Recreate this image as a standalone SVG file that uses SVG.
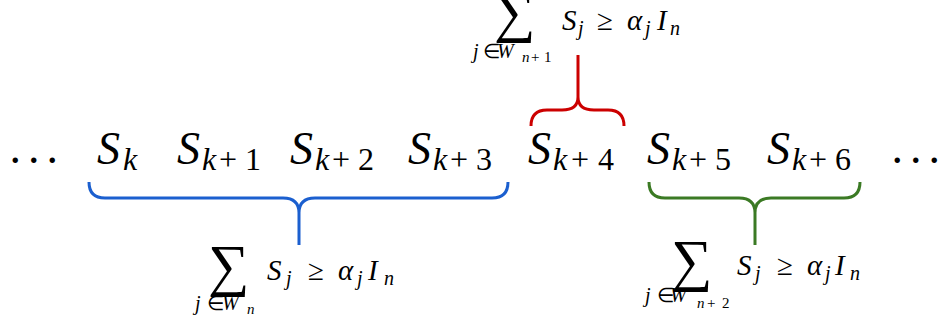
<svg xmlns="http://www.w3.org/2000/svg" width="940" height="327" viewBox="0 0 940 327">
<rect width="940" height="327" fill="#fff"/>
<g font-family="Liberation Serif, serif" fill="#000">
<g id="dots-left"><text x="9.5" y="163" font-size="46" letter-spacing="7">...</text></g>
<g id="s-k"><text font-size="46"><tspan x="97" y="164" font-style="italic">S</tspan><tspan x="123" y="170" font-size="32" font-style="italic">k</tspan></text></g>
<g id="s-k1"><text font-size="46"><tspan x="177" y="164" font-style="italic">S</tspan><tspan x="202" y="170" font-size="32" font-style="italic">k</tspan><tspan x="219" y="170" font-size="32">+</tspan><tspan x="245" y="170" font-size="32">1</tspan></text></g>
<g id="s-k2"><text font-size="46"><tspan x="290" y="164" font-style="italic">S</tspan><tspan x="315" y="170" font-size="32" font-style="italic">k</tspan><tspan x="332" y="170" font-size="32">+</tspan><tspan x="358" y="170" font-size="32">2</tspan></text></g>
<g id="s-k3"><text font-size="46"><tspan x="408" y="164" font-style="italic">S</tspan><tspan x="433" y="170" font-size="32" font-style="italic">k</tspan><tspan x="450" y="170" font-size="32">+</tspan><tspan x="476" y="170" font-size="32">3</tspan></text></g>
<g id="s-k4"><text font-size="46"><tspan x="528" y="164" font-style="italic">S</tspan><tspan x="553" y="170" font-size="32" font-style="italic">k</tspan><tspan x="571" y="170" font-size="32">+</tspan><tspan x="598" y="170" font-size="32">4</tspan></text></g>
<g id="s-k5"><text font-size="46"><tspan x="647" y="164" font-style="italic">S</tspan><tspan x="672" y="170" font-size="32" font-style="italic">k</tspan><tspan x="689" y="170" font-size="32">+</tspan><tspan x="715" y="170" font-size="32">5</tspan></text></g>
<g id="s-k6"><text font-size="46"><tspan x="767" y="164" font-style="italic">S</tspan><tspan x="792" y="170" font-size="32" font-style="italic">k</tspan><tspan x="809" y="170" font-size="32">+</tspan><tspan x="835" y="170" font-size="32">6</tspan></text></g>
<g id="dots-right"><text x="891.5" y="163" font-size="46" letter-spacing="7">...</text></g>

<g id="connectors" fill="none" stroke-width="3" stroke-linejoin="round">
<path stroke="#1b5fcf" d="M89,182 Q89,198 105,198 L283,198 Q299,198 299,213 Q299,198 315,198 L492,198 Q508,198 508,182 M299,213 L299,245"/>
<path stroke="#cc0000" d="M531,126 Q531,110 547,110 L562,110 Q578,110 578,97 Q578,110 594,110 L608,110 Q624,110 624,126 M578,97 L578,55"/>
<path stroke="#3b7a24" d="M649,182 Q649,198 665,198 L739,198 Q755,198 755,213 Q755,198 771,198 L844,198 Q860,198 860,182 M755,213 L755,245"/>
</g>

<g id="sum-top"><text font-size="29"><tspan x="494" y="31" font-size="58">∑</tspan><tspan x="473" y="58" font-size="20" font-style="italic">j</tspan><tspan x="483" y="58" font-size="20">∈</tspan><tspan x="497" y="58" font-size="20" font-style="italic">W</tspan><tspan x="522" y="62" font-size="15" font-style="italic">n</tspan><tspan x="531" y="62" font-size="15">+</tspan><tspan x="544" y="62" font-size="15">1</tspan><tspan x="562" y="30" font-style="italic">S</tspan><tspan x="578" y="35" font-size="20" font-style="italic">j</tspan><tspan x="597" y="30">≥</tspan><tspan x="627" y="30" font-style="italic">α</tspan><tspan x="645" y="35" font-size="20" font-style="italic">j</tspan><tspan x="657" y="30" font-style="italic">I</tspan><tspan x="670" y="35" font-size="20" font-style="italic">n</tspan></text></g>

<g id="sum-blue"><text font-size="29"><tspan x="208" y="285" font-size="58">∑</tspan><tspan x="195" y="310" font-size="20" font-style="italic">j</tspan><tspan x="207" y="310" font-size="20">∈</tspan><tspan x="222" y="310" font-size="20" font-style="italic">W</tspan><tspan x="247" y="314" font-size="15" font-style="italic">n</tspan><tspan x="267" y="280" font-style="italic">S</tspan><tspan x="286" y="285" font-size="20" font-style="italic">j</tspan><tspan x="308" y="280">≥</tspan><tspan x="338" y="280" font-style="italic">α</tspan><tspan x="357" y="285" font-size="20" font-style="italic">j</tspan><tspan x="368" y="280" font-style="italic">I</tspan><tspan x="384" y="285" font-size="20" font-style="italic">n</tspan></text></g>

<g id="sum-green"><text font-size="29"><tspan x="671" y="280" font-size="58">∑</tspan><tspan x="645" y="302" font-size="20" font-style="italic">j</tspan><tspan x="657" y="302" font-size="20">∈</tspan><tspan x="670" y="302" font-size="20" font-style="italic">W</tspan><tspan x="697" y="308" font-size="15" font-style="italic">n</tspan><tspan x="707" y="308" font-size="15">+</tspan><tspan x="722" y="308" font-size="15">2</tspan><tspan x="737" y="275" font-style="italic">S</tspan><tspan x="755" y="280" font-size="20" font-style="italic">j</tspan><tspan x="777" y="275">≥</tspan><tspan x="807" y="275" font-style="italic">α</tspan><tspan x="825" y="280" font-size="20" font-style="italic">j</tspan><tspan x="835" y="275" font-style="italic">I</tspan><tspan x="850" y="280" font-size="20" font-style="italic">n</tspan></text></g>
</g>
</svg>
